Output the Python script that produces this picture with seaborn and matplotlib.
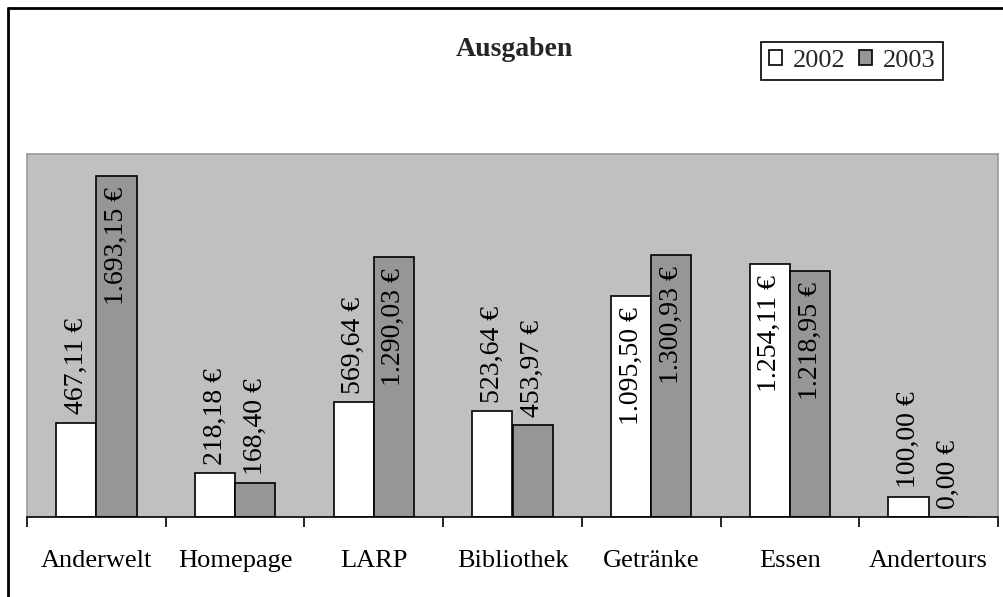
import matplotlib
matplotlib.use("Agg")
import numpy as np
import pandas as pd
import seaborn as sns
import matplotlib.pyplot as plt
from matplotlib.lines import Line2D

categories = ["Anderwelt", "Homepage", "LARP", "Bibliothek", "Getränke", "Essen", "Andertours"]
values_2002 = [467.11, 218.18, 569.64, 523.64, 1095.50, 1254.11, 100.00]
values_2003 = [1693.15, 168.40, 1290.03, 453.97, 1300.93, 1218.95, 0.00]
years = ["2002", "2003"]

df = pd.DataFrame({
    "Kategorie": categories * 2,
    "Jahr": [years[0]] * len(categories) + [years[1]] * len(categories),
    "Betrag": values_2002 + values_2003,
})


def euro(v):
    s = f"{v:,.2f}"
    s = s.replace(",", "X").replace(".", ",").replace("X", ".")
    return s + " €"


sns.set_theme(style="white")
plt.rcParams["font.family"] = ["Liberation Serif", "DejaVu Serif"]

fig = plt.figure(figsize=(10.04, 5.97), dpi=100)
ax = fig.add_axes([27 / 1004, 1 - 517 / 597, (998 - 27) / 1004, (517 - 154) / 597])
ax.set_facecolor("#C0C0C0")

sns.barplot(data=df, x="Kategorie", y="Betrag", hue="Jahr",
            palette=["#FFFFFF", "#969696"], edgecolor="black", linewidth=1.2,
            width=0.58, ax=ax, legend=False)

ax.set_xlim(-0.5, len(categories) - 0.5)
ax.set_ylim(0, 1800)
ax.set_yticks([])
ax.set_xlabel("")
ax.set_ylabel("")

# ticks at category boundaries, labels at centers
ax.set_xticks(np.arange(len(categories)))
ax.set_xticklabels(categories, fontsize=19)
ax.set_xticks(np.arange(-0.5, len(categories)), minor=True)
ax.tick_params(axis="x", which="major", length=0, pad=24, colors="black")
ax.tick_params(axis="x", which="minor", length=7, width=1.2, direction="out",
               color="black", bottom=True)

for side in ["top", "right", "left"]:
    ax.spines[side].set_color("#9A9A9A")
    ax.spines[side].set_linewidth(1.2)
ax.spines["bottom"].set_color("black")
ax.spines["bottom"].set_linewidth(1.2)

# data labels: outside end, moved inside if they come too close to the top
labels = []
for cont, vals in zip(ax.containers, [values_2002, values_2003]):
    for bar, v in zip(cont, vals):
        x = bar.get_x() + bar.get_width() / 2
        t = ax.annotate(euro(v), (x, v), xytext=(0, 6), textcoords="offset points",
                        rotation=90, ha="center", va="bottom", fontsize=20,
                        color="black")
        labels.append(t)

fig.canvas.draw()
renderer = fig.canvas.get_renderer()
ax_top = ax.get_window_extent().y1
for t in labels:
    bb = t.get_window_extent(renderer)
    if bb.y1 > ax_top - 35:
        t.xyann = (0, -8)
        t.set_va("top")

fig.text(514 / 1004, 1 - 49 / 597, "Ausgaben", ha="center", va="center",
         fontsize=20, fontweight="bold")

handles = [plt.Rectangle((0, 0), 1, 1, facecolor=c, edgecolor="black", linewidth=1.2)
           for c in ["#FFFFFF", "#969696"]]
leg = fig.legend(handles, years, loc="center", ncol=2,
                 bbox_to_anchor=(852 / 1004, 1 - 61 / 597),
                 fontsize=19, frameon=True, fancybox=False, framealpha=1,
                 edgecolor="black", handlelength=0.5, handleheight=0.5,
                 handletextpad=0.4, columnspacing=0.5, borderpad=0.3,
                 borderaxespad=0)
leg.get_frame().set_linewidth(1.2)

# outer chart border (cut off at right and bottom)
fig.add_artist(Line2D([8 / 1004, 8 / 1004], [0, 1 - 8 / 597], color="black",
                      linewidth=2, transform=fig.transFigure))
fig.add_artist(Line2D([8 / 1004, 1], [1 - 8 / 597, 1 - 8 / 597], color="black",
                      linewidth=2, transform=fig.transFigure))

fig.savefig("out.png", dpi=100, facecolor="white")
